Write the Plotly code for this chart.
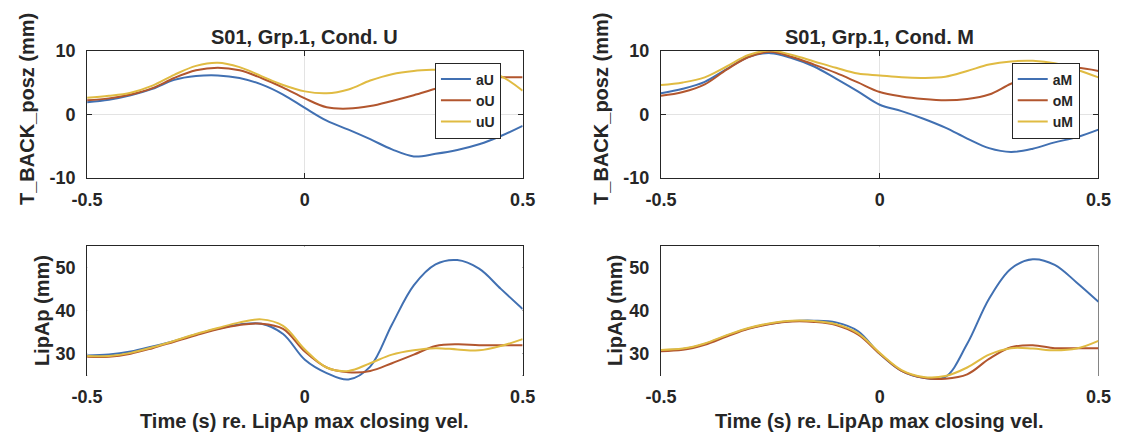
import plotly.graph_objects as go

# ---------------------------------------------------------------- data
time_s = [-0.50, -0.45, -0.40, -0.35, -0.30, -0.25, -0.20, -0.15, -0.10, -0.05,
          0.00, 0.05, 0.10, 0.15, 0.20, 0.25, 0.30, 0.35, 0.40, 0.45, 0.50]

# T_BACK_posz (mm), condition U
back_aU = [1.9, 2.3, 3.0, 4.0, 5.4, 6.0, 6.1, 5.7, 4.7, 3.1, 1.0, -1.0, -2.4,
           -3.9, -5.5, -6.6, -6.2, -5.6, -4.7, -3.4, -1.8]
back_oU = [2.2, 2.5, 3.1, 4.1, 5.7, 6.9, 7.3, 6.9, 5.7, 4.2, 2.5, 1.1, 0.9,
           1.3, 2.1, 3.0, 4.0, 4.9, 5.5, 5.8, 5.8]
back_uU = [2.6, 2.9, 3.4, 4.5, 6.2, 7.6, 8.1, 7.4, 6.0, 4.6, 3.6, 3.3, 3.9,
           5.3, 6.3, 6.8, 7.0, 7.1, 6.9, 6.0, 3.7]

# T_BACK_posz (mm), condition M
back_aM = [3.3, 4.0, 5.1, 7.1, 9.0, 9.6, 8.8, 7.5, 5.6, 3.6, 1.5, 0.5, -0.7,
           -2.1, -3.8, -5.3, -5.9, -5.4, -4.4, -3.6, -2.4]
back_oM = [2.9, 3.5, 4.7, 7.0, 9.0, 9.8, 9.0, 7.8, 6.5, 5.0, 3.5, 2.8, 2.4,
           2.2, 2.4, 3.1, 4.8, 6.1, 7.0, 7.3, 6.8]
back_uM = [4.6, 5.0, 5.8, 7.5, 9.3, 10.0, 9.3, 8.3, 7.3, 6.4, 6.1, 5.8, 5.7,
           5.9, 6.8, 7.8, 8.3, 8.4, 8.0, 7.0, 5.8]

# LipAp (mm), condition U
lip_aU = [29.6, 29.8, 30.5, 31.7, 33.0, 34.5, 35.8, 36.8, 37.0, 34.6, 28.6,
          25.5, 24.0, 27.0, 36.8, 45.9, 50.8, 51.8, 49.8, 45.1, 40.4]
lip_oU = [29.3, 29.3, 30.0, 31.3, 32.8, 34.3, 35.7, 36.7, 37.0, 35.8, 30.5,
          26.8, 25.7, 26.0, 27.8, 29.8, 31.8, 32.2, 32.0, 32.0, 32.0]
lip_uU = [29.5, 29.5, 30.2, 31.5, 33.0, 34.6, 36.0, 37.3, 38.0, 36.5, 31.0,
          26.8, 26.0, 27.8, 29.8, 30.8, 31.3, 31.0, 30.8, 31.8, 33.4]

# LipAp (mm), condition M
lip_aM = [30.8, 31.1, 32.3, 34.2, 35.9, 37.0, 37.6, 37.7, 37.3, 35.3, 30.0,
          26.0, 24.4, 24.6, 32.3, 42.8, 49.8, 52.0, 50.7, 46.6, 42.1]
lip_oM = [30.6, 30.9, 32.1, 34.0, 35.8, 36.9, 37.5, 37.4, 36.7, 34.5, 30.0,
          26.0, 24.4, 24.2, 25.2, 28.8, 31.5, 32.0, 31.3, 31.3, 31.3]
lip_uM = [30.9, 31.2, 32.4, 34.3, 36.0, 37.1, 37.7, 37.6, 36.9, 34.8, 30.2,
          26.2, 24.6, 24.8, 26.8, 29.8, 31.3, 31.2, 30.8, 31.2, 33.0]

x_ticks = [-0.5, 0, 0.5]
x_ticktext = ["-0.5", "0", "0.5"]
back_ticks = [-10, 0, 10]
back_ticktext = ["-10", "0", "10"]
lip_ticks = [30, 40, 50]
lip_ticktext = ["30", "40", "50"]

names_U = ["aU", "oU", "uU"]
names_M = ["aM", "oM", "uM"]
colors = ["#4170b2", "#b2562e", "#e0bb42"]

# ---------------------------------------------------------------- layout
W, H = 1128, 443
FONT = "Liberation Sans, Arial, Helvetica, sans-serif"
INK = "#262626"
GRID = "#e3e3e3"
TICK_SIZE = 18
LABEL_SIZE = 20
LEGEND_SIZE = 14


def xdom(left, right):
    return [left / W, right / W]


def ydom(top, bottom):
    return [1 - bottom / H, 1 - top / H]


LEFT_X = (73, 520)
RIGHT_X = (662, 1111)
TOP_Y = (42.5, 176)
BOT_Y = (247.5, 382.5)
BOT_RANGE = [25, 55]
# data layer of the lower panels reaches a few pixels under the frame
BOT_EXTRA_PX = 8
bot_extra = BOT_EXTRA_PX * (BOT_RANGE[1] - BOT_RANGE[0]) / (BOT_Y[1] - BOT_Y[0])

fig = go.Figure()


def frame_axis(domain, rng, tickvals, ticktext, anchor, is_x):
    return dict(
        domain=domain, range=rng, anchor=anchor,
        tickvals=tickvals, ticktext=ticktext,
        showline=True, linecolor=INK, linewidth=1, mirror="ticks",
        ticks="inside", ticklen=5, tickcolor=INK, tickwidth=1,
        showgrid=True, gridcolor=GRID, gridwidth=1, zeroline=False,
        tickfont=dict(family=FONT, size=TICK_SIZE, color=INK, weight="bold"),
        ticklabelstandoff=5 if is_x else 7,
        fixedrange=True,
    )


layout_axes = {}
# frames: 1 top-left, 2 top-right, 3 bottom-left, 4 bottom-right
panels = [
    (1, LEFT_X, TOP_Y, [-10, 10], back_ticks, back_ticktext),
    (2, RIGHT_X, TOP_Y, [-10, 10], back_ticks, back_ticktext),
    (3, LEFT_X, BOT_Y, BOT_RANGE, lip_ticks, lip_ticktext),
    (4, RIGHT_X, BOT_Y, BOT_RANGE, lip_ticks, lip_ticktext),
]
for k, xs, ys, yr, yt, ytt in panels:
    xname = "xaxis" if k == 1 else f"xaxis{k}"
    yname = "yaxis" if k == 1 else f"yaxis{k}"
    layout_axes[xname] = frame_axis(xdom(*xs), [-0.5, 0.5], x_ticks, x_ticktext,
                                    "y" if k == 1 else f"y{k}", True)
    layout_axes[yname] = frame_axis(ydom(*ys), yr, yt, ytt,
                                    "x" if k == 1 else f"x{k}", False)

# hidden data axes for the lower panels (5: left, 6: right)
for k, xs in [(5, LEFT_X), (6, RIGHT_X)]:
    layout_axes[f"xaxis{k}"] = dict(domain=xdom(*xs), range=[-0.5, 0.5],
                                    visible=False, anchor=f"y{k}", fixedrange=True)
    layout_axes[f"yaxis{k}"] = dict(domain=ydom(BOT_Y[0], BOT_Y[1] + BOT_EXTRA_PX),
                                    range=[BOT_RANGE[0] - bot_extra, BOT_RANGE[1]],
                                    visible=False, anchor=f"x{k}", fixedrange=True)

# ---------------------------------------------------------------- traces
# empty traces keep the lower frames (ticks, grid, box) on the page
for xa, ya in [("x3", "y3"), ("x4", "y4")]:
    fig.add_trace(go.Scatter(x=[], y=[], xaxis=xa, yaxis=ya, mode="lines",
                             showlegend=False, hoverinfo="skip"))


def curve(name, ys, c, xa, ya, **kw):
    return go.Scatter(x=time_s, y=ys, name=name, xaxis=xa, yaxis=ya, mode="lines",
                      line=dict(color=c, width=2, shape="spline", smoothing=1), **kw)


for name, ys, c in zip(names_U, [back_aU, back_oU, back_uU], colors):
    fig.add_trace(curve(name, ys, c, "x", "y", legend="legend"))
for name, ys, c in zip(names_M, [back_aM, back_oM, back_uM], colors):
    fig.add_trace(curve(name, ys, c, "x2", "y2", legend="legend2"))
for name, ys, c in zip(names_U, [lip_aU, lip_oU, lip_uU], colors):
    fig.add_trace(curve(name, ys, c, "x5", "y5", showlegend=False))
for name, ys, c in zip(names_M, [lip_aM, lip_oM, lip_uM], colors):
    fig.add_trace(curve(name, ys, c, "x6", "y6", showlegend=False))


# ---------------------------------------------------------------- text
def text(s, xpx, ypx, size, angle=0):
    return dict(text=s, x=xpx / W, y=1 - ypx / H, xref="paper", yref="paper",
                xanchor="center", yanchor="middle", showarrow=False,
                textangle=angle,
                font=dict(family=FONT, size=size, color=INK, weight="bold"))


left_cx = sum(LEFT_X) / 2
right_cx = sum(RIGHT_X) / 2
annotations = [
    text("S01, Grp.1, Cond. U", left_cx, 28, LABEL_SIZE),
    text("S01, Grp.1, Cond. M", right_cx, 28, LABEL_SIZE),
    text("T_BACK_posz (mm)", 12, 104, LABEL_SIZE, -90),
    text("T_BACK_posz (mm)", 601, 104, LABEL_SIZE, -90),
    text("LipAp (mm)", 26, 315, LABEL_SIZE, -90),
    text("LipAp (mm)", 615, 315, LABEL_SIZE, -90),
    text("Time (s) re. LipAp max closing vel.", left_cx, 430, LABEL_SIZE),
    text("Time (s) re. LipAp max closing vel.", right_cx, 430, LABEL_SIZE),
]

legend_style = dict(
    xanchor="left", yanchor="top",
    bgcolor="white", bordercolor=INK, borderwidth=1,
    font=dict(family=FONT, size=LEGEND_SIZE, color=INK, weight="bold"),
    itemwidth=30, tracegroupgap=0,
)

fig.update_layout(
    width=W, height=H,
    margin=dict(l=0, r=0, t=0, b=0),
    paper_bgcolor="white", plot_bgcolor="white",
    showlegend=True,
    legend=dict(x=430 / W, y=1 - 55 / H, **legend_style),
    legend2=dict(x=1022 / W, y=1 - 55 / H, **legend_style),
    annotations=annotations,
    **layout_axes,
)

fig.write_html("out.html")
